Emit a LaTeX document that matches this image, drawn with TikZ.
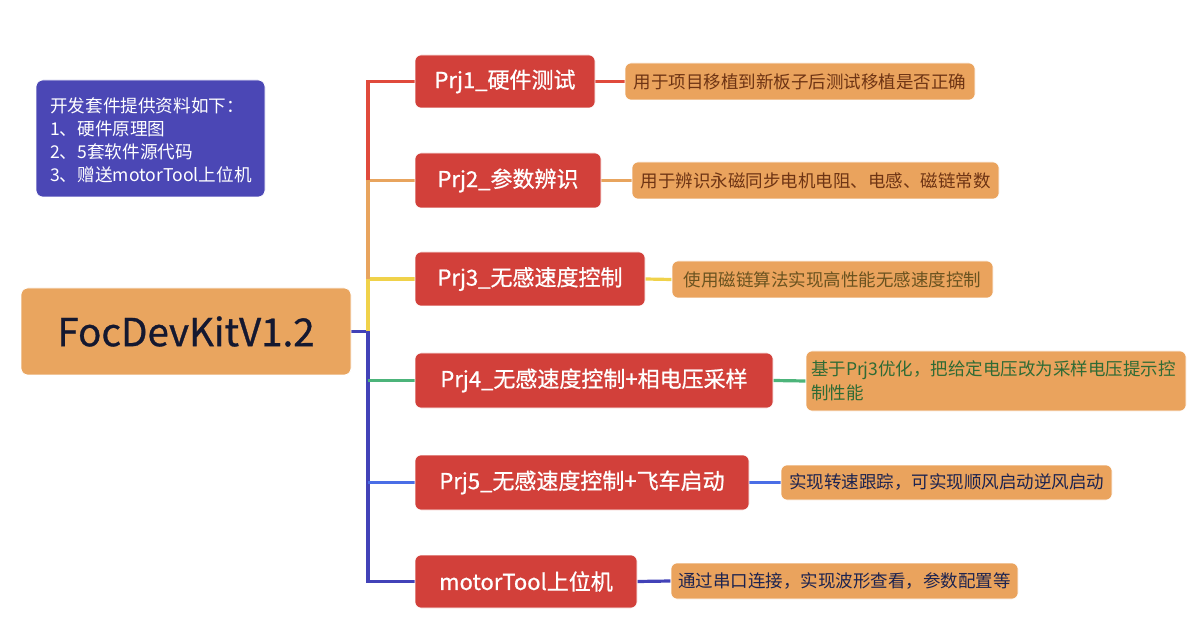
\documentclass[tikz,border=0pt]{standalone}
\usepackage{fontspec}
\usetikzlibrary{backgrounds}
\setmainfont{Noto Sans CJK SC}
\newfontfamily\prjfont[FakeBold=0.8]{Noto Sans CJK SC}
\definecolor{prjred}{HTML}{D2403A}
\definecolor{descor}{HTML}{EAA35D}
\definecolor{rootor}{HTML}{E9A55F}
\definecolor{infob}{HTML}{4B47B5}
\definecolor{lred}{HTML}{E04A3C}
\definecolor{lorange}{HTML}{E8A45E}
\definecolor{lyellow}{HTML}{F0D24A}
\definecolor{lgreen}{HTML}{4CB47A}
\definecolor{lblue}{HTML}{4A6EE6}
\definecolor{ldblue}{HTML}{4242B8}
\definecolor{tbrown}{HTML}{6E3414}
\definecolor{tolive}{HTML}{6B5320}
\definecolor{tgreen}{HTML}{2F6B35}
\definecolor{tnavy}{HTML}{1C2350}
\definecolor{rootnavy}{HTML}{141830}
\begin{document}
\begin{tikzpicture}[x=1pt,y=-1pt,
  prjbox/.style={fill=prjred,draw=white,line width=0.6pt,rounded corners=6pt,text=white,
    font=\prjfont\fontsize{22}{26}\selectfont,inner sep=0pt},
  descbox/.style={fill=descor,draw=white,line width=0.6pt,rounded corners=6pt,
    font=\fontsize{17.5}{24}\selectfont,inner sep=0pt,align=left},
  conn/.style={line width=3.2pt},
]
\useasboundingbox (0,0) rectangle (1200,636);
% info box
\node[fill=infob,draw=white,line width=0.6pt,rounded corners=7pt,minimum width=229pt,minimum height=117pt,inner sep=0pt] (info) at (150.5,138.5) {};
\node[anchor=west,text=white,align=left,inner sep=0pt,font=\fontsize{17.6}{23}\selectfont] (infotext) at (50,140)
 {开发套件提供资料如下：\\1、硬件原理图\\2、5套软件源代码\\3、赠送motorTool上位机};
% root
\node[fill=rootor,draw=white,line width=0.6pt,rounded corners=7pt,minimum width=330pt,minimum height=87pt,inner sep=0pt,
  text=rootnavy,font=\prjfont\fontsize{38.5}{44}\selectfont] (root) at (186,331.5) {FocDevKitV1.2};
% project nodes
\node[prjbox,minimum width=180pt,minimum height=53pt] (p1) at (505,81.5) {Prj1\_硬件测试};
\node[prjbox,minimum width=186pt,minimum height=55pt] (p2) at (508,180.5) {Prj2\_参数辨识};
\node[prjbox,minimum width=230pt,minimum height=54pt] (p3) at (530,279) {Prj3\_无感速度控制};
\node[prjbox,minimum width=358pt,minimum height=55pt] (p4) at (594,380.5) {Prj4\_无感速度控制+相电压采样};
\node[prjbox,minimum width=334pt,minimum height=55pt] (p5) at (582,482.5) {Prj5\_无感速度控制+飞车启动};
\node[prjbox,minimum width=222pt,minimum height=53pt] (p6) at (526,581.5) {motorTool上位机};
% description nodes
\node[descbox,minimum width=350pt,minimum height=37pt,text=tbrown] (d1) at (800,81.5) {用于项目移植到新板子后测试移植是否正确};
\node[descbox,minimum width=367pt,minimum height=37pt,text=tbrown] (d2) at (815.5,180.5) {用于辨识永磁同步电机电阻、电感、磁链常数};
\node[descbox,minimum width=321pt,minimum height=37pt,text=tolive] (d3) at (832.5,279.5) {使用磁链算法实现高性能无感速度控制};
\node[descbox,minimum width=380pt,minimum height=60pt,text=tgreen,text width=370pt] (d4) at (996,381)
  {基于Prj3优化，把给定电压改为采样电压提示控\\制性能};
\node[descbox,minimum width=331pt,minimum height=35pt,text=tnavy] (d5) at (946.5,482.5) {实现转速跟踪，可实现顺风启动逆风启动};
\node[descbox,minimum width=347pt,minimum height=36pt,text=tnavy] (d6) at (844.5,581) {通过串口连接，实现波形查看，参数配置等};
% trunk coordinates
\coordinate (j0) at (368,331.5);
\coordinate (j1) at (368,81.5);
\coordinate (j2) at (368,180.5);
\coordinate (j3) at (368,279);
\coordinate (j4) at (368,380.5);
\coordinate (j5) at (368,482.5);
\coordinate (j6) at (368,581.5);
% connectors
\begin{scope}[on background layer]
\draw[conn,ldblue] (root.east) -- (j0);
\draw[conn,ldblue,line join=miter] (j0) -- (j6) -- (p6.west);
\draw[conn,lyellow,line join=miter] (j0) -- (j3) -- (p3.west);
\draw[conn,lorange,line join=miter] (j3) -- (j2) -- (p2.west);
\draw[conn,lred,line join=miter] (j2) -- (j1) -- (p1.west);
\draw[conn,lgreen] (j4) -- (p4.west);
\draw[conn,lblue] (j5) -- (p5.west);
\draw[conn,lred] (p1.east) -- (d1.west);
\draw[conn,lorange] (p2.east) -- (d2.west);
\draw[conn,lyellow] (p3.east) -- (d3.west);
\draw[conn,lgreen] (p4.east) -- (d4.west);
\draw[conn,lblue] (p5.east) -- (d5.west);
\draw[conn,ldblue] (p6.east) -- (d6.west);
\end{scope}
\end{tikzpicture}
\end{document}
